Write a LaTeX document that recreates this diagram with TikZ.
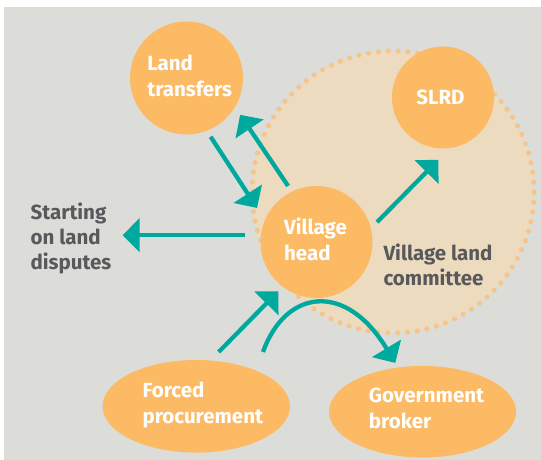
\documentclass[tikz,border=0pt]{standalone}
\usepackage{fontspec}
\setmainfont{Fira Sans}
\usetikzlibrary{arrows.meta,calc,shapes.geometric}
\definecolor{bgc}{HTML}{DCDDD8}
\definecolor{org}{HTML}{FBBA63}
\definecolor{cmt}{HTML}{EDDBC0}
\definecolor{dotc}{HTML}{F3C690}
\definecolor{arrteal}{HTML}{00A99D}
\definecolor{txtgray}{HTML}{58595B}
\begin{document}
\begin{tikzpicture}[x=1pt,y=-1pt,
  blob/.style={fill=org, draw=none, inner sep=0pt, outer sep=0pt},
  lbl/.style={text=white, font=\bfseries\fontsize{20.5}{26}\selectfont, align=left, inner sep=0pt},
  dark/.style={text=txtgray, font=\bfseries\fontsize{20.5}{25}\selectfont, align=left, inner sep=0pt},
  arr/.style={draw=arrteal, line width=4.3pt, -{Triangle[length=17pt,width=33pt]}}
]
\useasboundingbox (0,0) rectangle (541,460);
\fill[bgc] (4,7) rectangle (541,460);

% village land committee
\node[circle, minimum size=282pt, inner sep=0pt, fill=cmt, draw=dotc, line width=5.2pt,
      dash pattern=on 0pt off 9.84pt, line cap=round] (vlcc) at (393,192) {};
\node[dark, anchor=center] (vlc) at (438,265.1) {Village land\\committee};

% nodes
\node[blob, circle, minimum size=113pt] (lt) at (186.5,78) {};
\node[lbl] (ltt) at (189.7,75.6) {Land\\transfers};
\node[blob, circle, minimum size=102pt] (slrd) at (443,97.5) {};
\node[lbl] (slrdt) at (440.4,97.2) {SLRD};
\node[blob, circle, minimum size=112pt] (vh) at (316.5,242) {};
\node[lbl] (vht) at (315.5,239.1) {Village\\head};
\node[blob, ellipse, minimum width=187.4pt, minimum height=92.6pt] (fp) at (196.3,406.3) {};
\node[lbl] (fpt) at (202.8,404.9) {Forced\\procurement};
\node[blob, ellipse, minimum width=187pt, minimum height=91.5pt] (gb) at (422.5,411.7) {};
\node[lbl] (gbt) at (426.5,408.8) {Government\\broker};
\node[dark] (st) at (71,238) {Starting\\on land\\disputes};

% connectors
\draw[arr, shorten <=7.2pt, shorten >=14.5pt] (lt.-69.8) -- (vh.157);
\draw[arr, shorten <=6.9pt, shorten >=9.3pt] (vh.116.1) -- (lt.-31.2);
\draw[arr, shorten <=8.9pt, shorten >=16.7pt] (vh.14.2) -- (slrd.-82.5);
\draw[arr, shorten <=15.8pt, shorten >=11pt] (vh.173.9) -- (vh.173.9 -| st.east);
\draw[arr, shorten <=11.9pt, shorten >=6.4pt] (fp.73.7) -- (vh.-127.4);
\coordinate (cs) at (263,352);
\draw[arr, shorten >=5.4pt] (cs) .. controls +(22,-62) and +(-52.8,-87.6) .. (gb.119.3);
\end{tikzpicture}
\end{document}
